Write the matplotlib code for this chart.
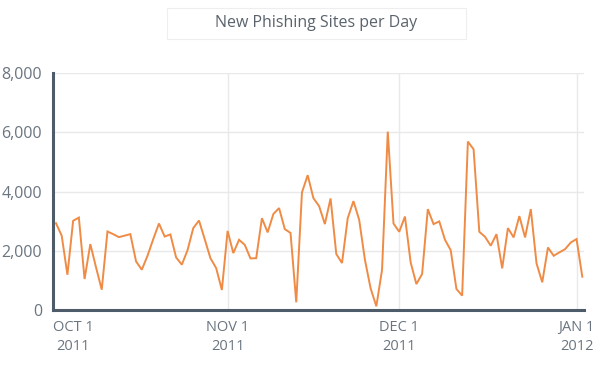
import matplotlib
matplotlib.use("Agg")
import matplotlib.pyplot as plt
from matplotlib.patches import Rectangle
import numpy as np

# new phishing sites per day, starting Oct 2 2011
sites = [2930, 2510, 1190, 3010, 3120, 1045, 2225, 1440, 685, 2650,
         2560, 2460, 2510, 2560, 1640, 1360, 1830, 2390, 2920, 2480,
         2550, 1775, 1530, 2020, 2765, 3020, 2390, 1750, 1415, 675,
         2670, 1920, 2370, 2200, 1740, 1750, 3100, 2620, 3240, 3440,
         2730, 2600, 260, 3970, 4550, 3775, 3505, 2900, 3765, 1890,
         1585, 3100, 3675, 3045, 1700, 730, 125, 1360, 6020, 2920,
         2640, 3155, 1605, 875, 1215, 3405, 2900, 2990, 2370, 2020,
         710, 485, 5685, 5425, 2640, 2470, 2170, 2560, 1405, 2765,
         2450, 3170, 2450, 3405, 1575, 935, 2110, 1830, 1945, 2055,
         2280, 2395, 1125]
first_day = 1  # days after Oct 1
tick_days = [31, 61, 92]
tick_labels = ["NOV 1\n2011", "DEC 1\n2011", "JAN 1\n2012"]
yticks = [0, 2000, 4000, 6000, 8000]
ylabels = ["0", "2,000", "4,000", "6,000", "8,000"]

plt.rcParams['font.family'] = ['Open Sans', 'DejaVu Sans']

fig = plt.figure(figsize=(6.06, 3.65), dpi=100)
ax = fig.add_axes([53/606, 55/365, 531/606, 237/365])

days = np.arange(first_day, first_day + len(sites))
ax.plot(days, sites, color="#ef8b45", lw=1.4, solid_joinstyle="miter")

xmin = 0.48
ax.set_xlim(xmin, 93.3)
ax.set_ylim(0, 8000)
ax.set_yticks(yticks)
ax.set_yticklabels(ylabels)
ax.set_xticks([xmin] + tick_days)
ax.set_xticklabels(["OCT 1\n2011"] + tick_labels, linespacing=1.35)
for lab in ax.get_xticklabels():
    lab.set_multialignment("center")
ax.get_xticklabels()[0].set_ha("left")

ax.grid(True, color="#e9e9e9", lw=1)
ax.set_axisbelow(True)
ax.tick_params(length=0, labelsize=10.5, colors="#6a7580", pad=7)
ax.tick_params(axis="y", labelsize=11.5, pad=8)
for s in ["top", "right"]:
    ax.spines[s].set_visible(False)
for s in ["left", "bottom"]:
    ax.spines[s].set_color("#4e5b68")
    ax.spines[s].set_linewidth(2.2)

# title box
fig.patches.append(Rectangle((167/606, 1 - 39/365), 299/606, 31/365,
                             transform=fig.transFigure, fill=False,
                             edgecolor="#eeeeee", lw=0.8))
fig.text(316/606, 1 - 23/365, "New Phishing Sites per Day", ha="center",
         va="center", fontsize=11.5, color="#5a636c")

fig.savefig("out.png", dpi=100)
